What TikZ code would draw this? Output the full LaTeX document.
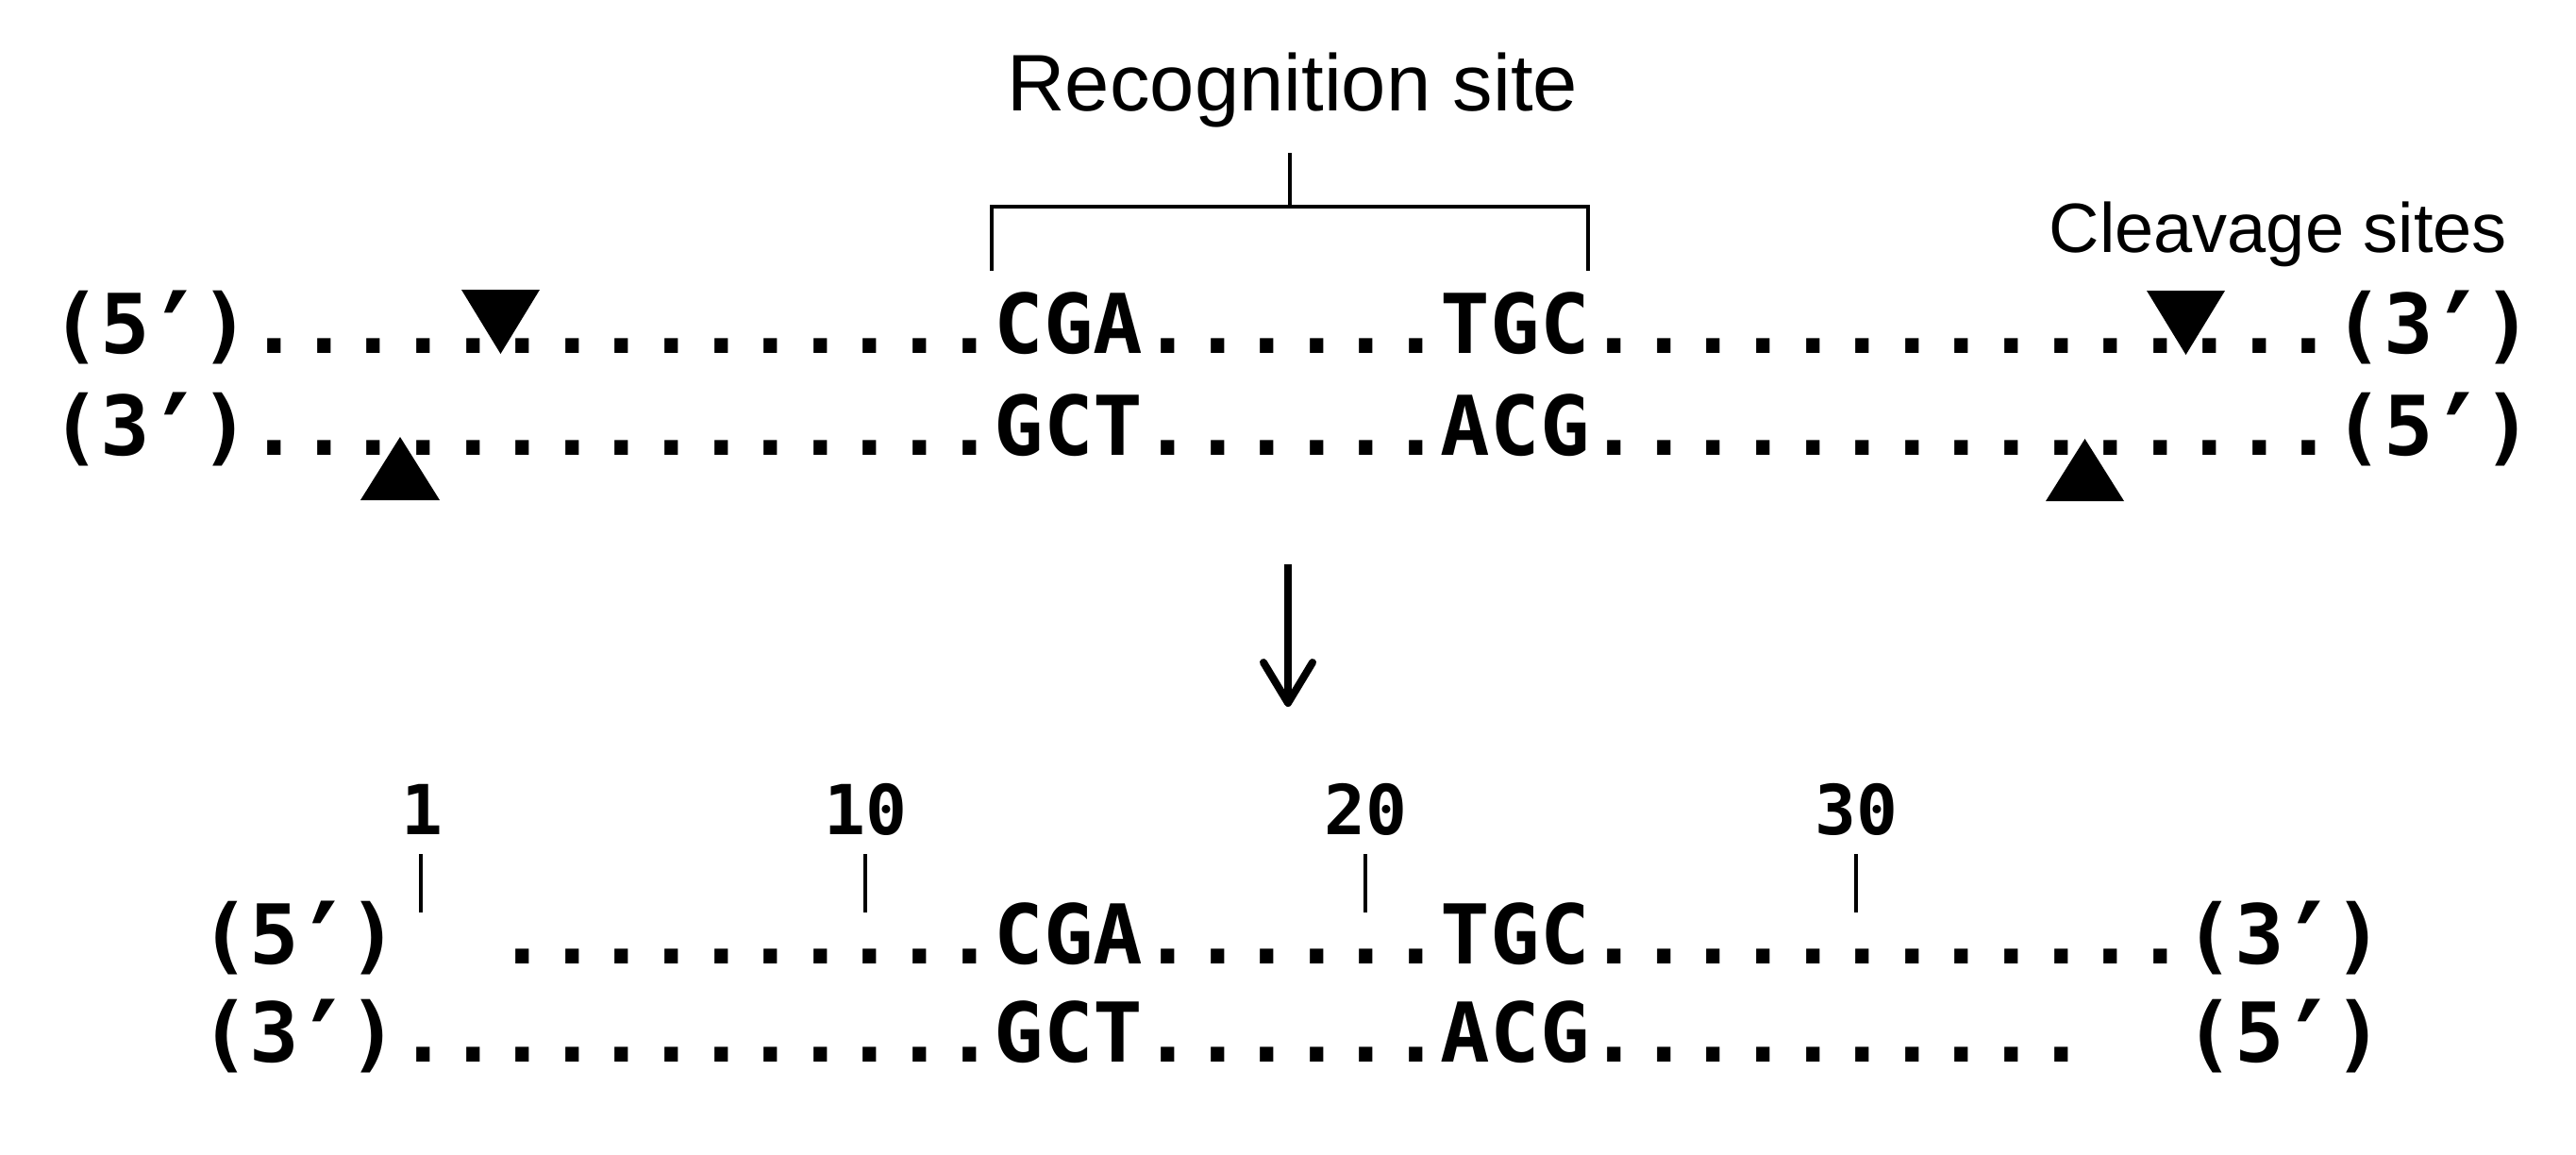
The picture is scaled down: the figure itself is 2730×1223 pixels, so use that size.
\documentclass[tikz,border=0pt]{standalone}
\usepackage{fontspec}
\setmainfont{Liberation Sans}
\newfontfamily\dnafont{DejaVu Sans Mono}
\newcommand\prm{\makebox[0.6021em]{\raisebox{-0.34em}{\scalebox{1.25}[1.5]{′}}}}
\begin{document}
\begin{tikzpicture}[x=0.25pt,y=-0.25pt,
  strand/.style={anchor=base west, inner sep=0pt, outer sep=0pt,
    font=\dnafont\bfseries\fontsize{21.84pt}{26pt}\selectfont},
  numlab/.style={anchor=base, inner sep=0pt, outer sep=0pt,
    font=\dnafont\bfseries\fontsize{18.25pt}{22pt}\selectfont},
  sitelabel/.style={inner sep=0pt, outer sep=0pt},
  cutmark/.style={fill=black, draw=none},
  bracketline/.style={line width=0.9pt, line join=miter},
  tickline/.style={line width=0.9pt},
  arrowline/.style={line width=2pt}
]
\useasboundingbox (0,0) rectangle (2730,1223);

% labels
\node[sitelabel, anchor=base, font=\fontsize{21.25pt}{25pt}\selectfont] (recog) at (1370,117) {Recognition site};
\node[sitelabel, anchor=base east, font=\fontsize{18.5pt}{22pt}\selectfont] (cleav) at (2657,267) {Cleavage sites};

% bracket
\coordinate (stemTop) at (1367,162);
\coordinate (stemBot) at (1367,219);
\coordinate (brLtop) at (1051,219);
\coordinate (brRtop) at (1683,219);
\coordinate (brL) at (1051,287);
\coordinate (brR) at (1683,287);
\draw[bracketline] (stemTop) -- (stemBot);
\draw[bracketline] (brL) -- (brLtop) -- (brRtop) -- (brR);

% upper duplex
\node[strand] (r1) at (54.4,374) {(5\prm)...............CGA......TGC...............(3\prm)};
\node[strand] (r2) at (54.4,482) {(3\prm)...............GCT......ACG...............(5\prm)};

% cleavage marks
\fill[cutmark] (489,307) -- (572,307) -- (530.5,375) -- cycle;
\fill[cutmark] (2275,308) -- (2358,308) -- (2316.5,376) -- cycle;
\fill[cutmark] (382,530) -- (466,530) -- (424,463) -- cycle;
\fill[cutmark] (2168,531) -- (2251,531) -- (2209.5,465) -- cycle;

% arrow
\coordinate (arrTop) at (1365,598);
\coordinate (arrTip) at (1365,745);
\draw[arrowline] (arrTop) -- (arrTip);
\draw[arrowline, line cap=round, line join=round]
  ([shift={(-26,-43)}]arrTip) -- (arrTip) -- ([shift={(26,-43)}]arrTip);

% position numbers and ticks
\node[numlab] (n1) at (447,884) {1};
\node[numlab] (n10) at (917,884) {10};
\node[numlab] (n20) at (1447,884) {20};
\node[numlab] (n30) at (1967,884) {30};
\foreach \t/\xx in {t1/446,t10/917,t20/1447,t30/1967}{
  \coordinate (\t a) at (\xx,905);
  \coordinate (\t b) at (\xx,967);
  \draw[tickline] (\t a) -- (\t b);
}

% lower duplex
\node[strand] (r3) at (212.2,1021) {(5\prm)\phantom{..}..........CGA......TGC............(3\prm)};
\node[strand] (r4) at (212.2,1125) {(3\prm)............GCT......ACG..........\phantom{..}(5\prm)};
\end{tikzpicture}
\end{document}
